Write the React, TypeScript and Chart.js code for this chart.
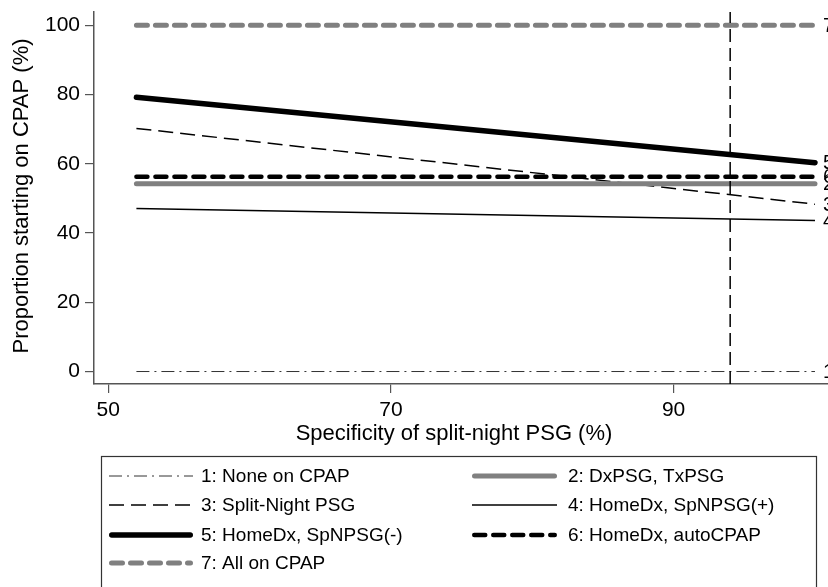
import React, { useEffect, useRef } from 'react';
import { Chart, registerables } from 'chart.js';

Chart.register(...registerables);

// ---- data ----
const SPECIFICITY = [52, 100];
const NONE_ON_CPAP = [0, 0];
const DXPSG_TXPSG = [54.2, 54.2];
const SPLIT_NIGHT_PSG = [70.2, 48.3];
const HOMEDX_SPNPSG_POS = [47.1, 43.6];
const HOMEDX_SPNPSG_NEG = [79.2, 60.3];
const HOMEDX_AUTOCPAP = [56.2, 56.2];
const ALL_ON_CPAP = [100, 100];
const SERIES_LABELS = [
  '1: None on CPAP',
  '2: DxPSG, TxPSG',
  '3: Split-Night PSG',
  '4: HomeDx, SpNPSG(+)',
  '5: HomeDx, SpNPSG(-)',
  '6: HomeDx, autoCPAP',
  '7: All on CPAP',
];
const END_LABELS = ['1', '2', '3', '4', '5', '6', '7'];
const REFERENCE_SPECIFICITY = 94;
const Y_RANGE = [-3.6, 103.8];
const X_RANGE = [49.0, 100.92];
const X_TICKS = [50, 70, 90];
const Y_TICKS = [0, 20, 40, 60, 80, 100];
const X_TITLE = 'Specificity of split-night PSG (%)';
const Y_TITLE = 'Proportion starting on CPAP (%)';

const FONT = '"Liberation Sans", Arial, Helvetica, sans-serif';
const GREY = '#808080';
const W = 828;
const H = 587;

const toPts = (ys: number[]) => ys.map((y, i) => ({ x: SPECIFICITY[i], y }));

type Style = { color: string; width: number; dash: number[]; cap: CanvasLineCap };
const STYLES: Style[] = [
  { color: '#333333', width: 1, dash: [13, 5, 2, 5], cap: 'butt' },
  { color: GREY, width: 5, dash: [], cap: 'round' },
  { color: '#000000', width: 1.5, dash: [15, 7], cap: 'butt' },
  { color: '#000000', width: 1.5, dash: [], cap: 'butt' },
  { color: '#000000', width: 5.5, dash: [], cap: 'round' },
  { color: '#000000', width: 4.5, dash: [11, 8], cap: 'round' },
  { color: GREY, width: 5, dash: [11, 8], cap: 'round' },
];
const SERIES = [
  NONE_ON_CPAP,
  DXPSG_TXPSG,
  SPLIT_NIGHT_PSG,
  HOMEDX_SPNPSG_POS,
  HOMEDX_SPNPSG_NEG,
  HOMEDX_AUTOCPAP,
  ALL_ON_CPAP,
];

const decor = {
  id: 'decor',
  afterDraw(chart: any) {
    const ctx: CanvasRenderingContext2D = chart.ctx;
    const xs = chart.scales.x;
    const ys = chart.scales.y;
    ctx.save();
    // end labels
    ctx.font = `20px ${FONT}`;
    ctx.fillStyle = '#000';
    ctx.textBaseline = 'middle';
    ctx.textAlign = 'left';
    chart.data.datasets.forEach((ds: any) => {
      if (!ds.endLabel) return;
      const last = ds.data[ds.data.length - 1];
      ctx.fillText(String(ds.endLabel), xs.getPixelForValue(last.x) + 8, ys.getPixelForValue(last.y) + 1);
    });
    // axis titles
    ctx.font = `22px ${FONT}`;
    ctx.textAlign = 'center';
    ctx.fillText(X_TITLE, 454, 434);
    ctx.save();
    ctx.translate(22, 196);
    ctx.rotate(-Math.PI / 2);
    ctx.fillText(Y_TITLE, 0, 0);
    ctx.restore();
    // legend box
    ctx.strokeStyle = '#333';
    ctx.lineWidth = 1.2;
    ctx.strokeRect(101.5, 456.5, 715, 200);
    const rows = [476, 505, 535, 563];
    const cols = [
      { x0: 109, x1: 193, tx: 201 },
      { x0: 472, x1: 557, tx: 568 },
    ];
    ctx.font = `19px ${FONT}`;
    ctx.textAlign = 'left';
    ctx.textBaseline = 'middle';
    let k = 0;
    chart.data.datasets.forEach((ds: any) => {
      if (!ds.inLegend) return;
      const r = Math.floor(k / 2);
      const c = cols[k % 2];
      const y = rows[r];
      ctx.save();
      ctx.strokeStyle = ds.borderColor;
      ctx.lineWidth = ds.borderWidth;
      ctx.setLineDash(ds.borderDash || []);
      ctx.lineCap = ds.borderCapStyle || 'butt';
      const pad = ds.borderCapStyle === 'round' ? ds.borderWidth / 2 : 0;
      ctx.beginPath();
      ctx.moveTo(c.x0 + pad, y);
      ctx.lineTo(c.x1 - pad, y);
      ctx.stroke();
      ctx.restore();
      ctx.fillStyle = '#000';
      ctx.fillText(ds.label, c.tx, y + 1);
      k++;
    });
    ctx.restore();
  },
};

export default function App() {
  const ref = useRef<HTMLCanvasElement | null>(null);
  useEffect(() => {
    if (!ref.current) return;
    document.body.style.margin = '0';
    const datasets: any[] = [
      {
        label: 'reference',
        data: [
          { x: REFERENCE_SPECIFICITY, y: Y_RANGE[0] },
          { x: REFERENCE_SPECIFICITY, y: Y_RANGE[1] },
        ],
        borderColor: '#000',
        borderWidth: 1.5,
        borderDash: [13, 6],
        pointRadius: 0,
        clip: false,
        inLegend: false,
      },
    ];
    SERIES.forEach((s, i) => {
      const st = STYLES[i];
      datasets.push({
        label: SERIES_LABELS[i],
        data: toPts(s),
        borderColor: st.color,
        borderWidth: st.width,
        borderDash: st.dash,
        borderCapStyle: st.cap,
        pointRadius: 0,
        tension: 0,
        clip: false,
        endLabel: END_LABELS[i],
        inLegend: true,
      });
    });
    const chart = new Chart(ref.current, {
      type: 'line',
      data: { datasets },
      options: {
        animation: false,
        responsive: false,
        devicePixelRatio: 1,
        events: [],
        layout: { padding: { top: 12, left: 0, right: 0, bottom: 0 } },
        plugins: { legend: { display: false }, tooltip: { enabled: false } },
        scales: {
          x: {
            type: 'linear',
            min: X_RANGE[0],
            max: X_RANGE[1],
            afterBuildTicks: (s: any) => {
              s.ticks = X_TICKS.map((v) => ({ value: v }));
            },
            afterFit: (s: any) => {
              s.height = 203;
              s.paddingLeft = 0;
              s.paddingRight = 0;
            },
            grid: { drawOnChartArea: false, tickLength: 9, color: '#555', lineWidth: 1.2 },
            border: { display: true, color: '#555', width: 1.5 },
            ticks: { color: '#000', font: { family: FONT, size: 21 }, padding: 5, maxRotation: 0 },
          },
          y: {
            type: 'linear',
            min: Y_RANGE[0],
            max: Y_RANGE[1],
            afterBuildTicks: (s: any) => {
              s.ticks = Y_TICKS.map((v) => ({ value: v }));
            },
            afterFit: (s: any) => {
              s.width = 94;
              s.paddingTop = 0;
              s.paddingBottom = 0;
            },
            grid: { drawOnChartArea: false, tickLength: 9, color: '#555', lineWidth: 1.2 },
            border: { display: true, color: '#555', width: 1.5 },
            ticks: { color: '#000', font: { family: FONT, size: 21 }, padding: 5 },
          },
        },
      } as any,
      plugins: [decor],
    });
    return () => chart.destroy();
  }, []);
  return (
    <div style={{ width: W, height: H, overflow: 'hidden' }}>
      <canvas ref={ref} width={W} height={H} style={{ display: 'block', width: W, height: H }} />
    </div>
  );
}
